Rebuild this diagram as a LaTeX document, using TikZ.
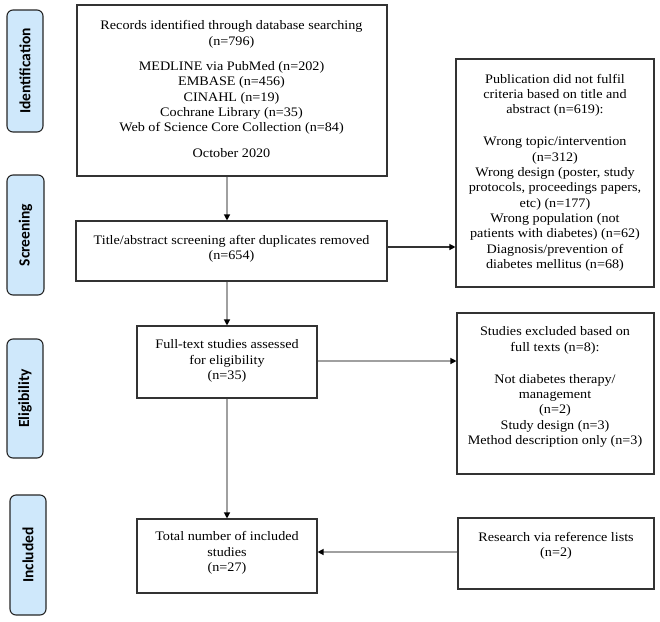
\documentclass[tikz,border=0pt]{standalone}
\usepackage{fontspec}
\setmainfont{Liberation Serif}[FakeStretch=1.09]
\newfontfamily\stagefont{Carlito}
\usetikzlibrary{arrows.meta,calc}
\definecolor{stagefill}{HTML}{CFE8FB}
\definecolor{boxline}{HTML}{333333}
\definecolor{connline}{HTML}{A0A0A0}
\begin{document}
\begin{tikzpicture}[x=1pt,y=-1pt,
  box/.style={draw=boxline,line width=1.1pt,inner sep=0pt},
  stagebox/.style={draw=black!85,line width=1.1pt,fill=stagefill,rounded corners=6pt,inner sep=0pt,minimum width=36pt,minimum height=120pt},
  stagetext/.style={rotate=90,font=\stagefont\bfseries\fontsize{15.5}{17}\selectfont},
  txt/.style={align=center,inner sep=0pt,font=\fontsize{13}{15.3}\selectfont},
  conn/.style={draw=connline,line width=1.2pt,-{Triangle[length=6pt,width=6pt,color=black]}},
  connd/.style={draw=black!80,line width=1.2pt,-{Triangle[length=6pt,width=6pt,color=black]}}]
\useasboundingbox (0,0) rectangle (660,621);
% stage labels
\node[stagebox,minimum height=122pt] (s1) at (25,71) {};
\node[stagetext] (l1) at (s1) {Identification};
\node[stagebox,minimum width=37pt] (s2) at (25.5,235) {};
\node[stagetext] (l2) at (s2) {Screening};
\node[stagebox,minimum height=119pt] (s3) at (25,398.5) {};
\node[stagetext] (l3) at (s3) {Eligibility};
\node[stagebox] (s4) at (28,555) {};
\node[stagetext] (l4) at (s4) {Included};
% boxes
\node[box,minimum width=310pt,minimum height=171pt] (b1) at (232,90.5) {};
\node[box,minimum width=311pt,minimum height=60pt] (b2) at (231.5,251) {};
\node[box,minimum width=198pt,minimum height=228pt] (b3) at (555,173) {};
\node[box,minimum width=180pt,minimum height=72pt] (b4) at (227,362) {};
\node[box,minimum width=197pt,minimum height=161pt] (b5) at (555.5,393.5) {};
\node[box,minimum width=180pt,minimum height=74pt] (b6) at (227,556) {};
\node[box,minimum width=196pt,minimum height=71pt] (b7) at (556,553.5) {};
% texts
\node[txt] (t1) at (231.5,89) {Records identified through database searching\\(n=796)\\[10pt]
MEDLINE via PubMed (n=202)\\EMBASE (n=456)\\CINAHL (n=19)\\Cochrane Library (n=35)\\Web of Science Core Collection (n=84)\\[10pt]October 2020};
\node[txt] (t2) at (231.5,248.5) {Title/abstract screening after duplicates removed\\(n=654)};
\node[txt] (t3) at (555,172.5) {Publication did not fulfil\\criteria based on title and\\abstract (n=619):\\[17pt]
Wrong topic/intervention\\(n=312)\\Wrong design (poster, study\\protocols, proceedings papers,\\etc) (n=177)\\Wrong population (not\\patients with diabetes) (n=62)\\Diagnosis/prevention of\\diabetes mellitus (n=68)};
\node[txt] (t4) at (227,361) {Full-text studies assessed\\for eligibility\\(n=35)};
\node[txt] (t5) at (555,387) {Studies excluded based on\\full texts (n=8):\\[17pt]
Not diabetes therapy/\\management\\(n=2)\\Study design (n=3)\\Method description only (n=3)};
\node[txt] (t6) at (227,553) {Total number of included\\studies\\(n=27)};
\node[txt] (t7) at (556,545.5) {Research via reference lists\\(n=2)};
% connectors
\draw[conn] (b1.south -| b4.north) -- (b2.north -| b4.north);
\draw[conn] (b2.south -| b4.north) -- (b4.north);
\draw[conn] (b4.south) -- (b6.north);
\draw[connd] ([yshift=4pt]b2.east) -- ([yshift=4pt]b2.east -| b3.west);
\draw[conn] ([yshift=1pt]b4.east) -- ([yshift=1pt]b4.east -| b5.west);
\draw[conn] ([yshift=1.5pt]b7.west) -- ([yshift=1.5pt]b7.west -| b6.east);
\end{tikzpicture}
\end{document}
